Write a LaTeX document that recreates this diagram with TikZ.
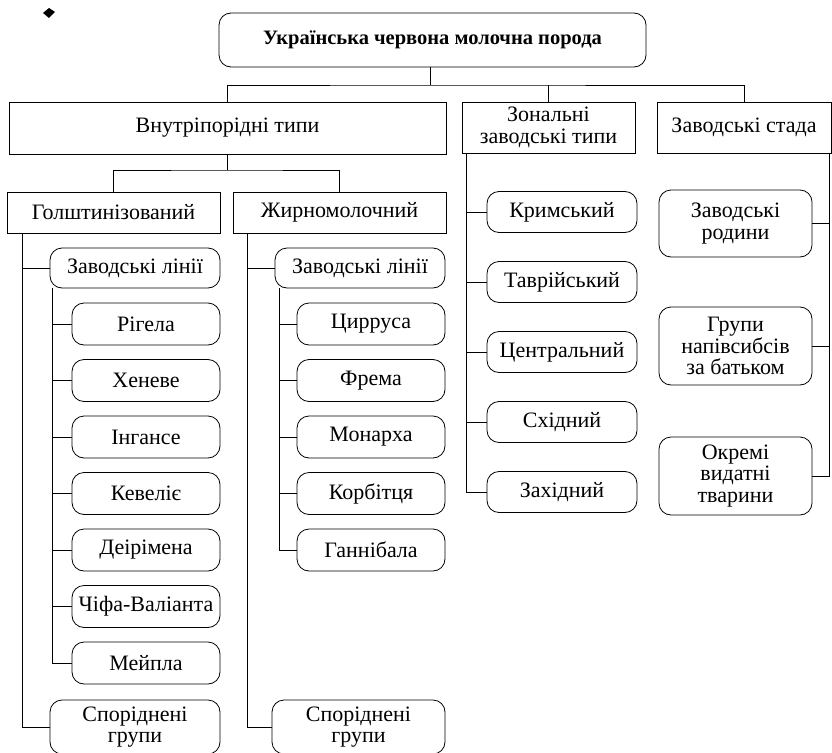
\documentclass[tikz,border=0pt]{standalone}
\usepackage{fontspec}
\setmainfont{Liberation Serif}
\begin{document}
\begin{tikzpicture}[x=1pt,y=-1pt,
  line width=0.8pt,
  txt/.style={font=\fontsize{22}{21.5}\selectfont, align=center, inner sep=0pt},
  sqbox/.style={txt, draw, rectangle},
  rbox/.style={txt, draw, rectangle, rounded corners=12pt},
  link/.style={draw, line width=0.8pt}
]
\useasboundingbox (0,0) rectangle (832,752);
% small printed mark at top left
\fill (43,13) -- (49,8) -- (55,12) -- (49,18) -- cycle;

% top
\node[rbox, font=\fontsize{20.5}{22}\selectfont\bfseries, minimum width=427pt, minimum height=54pt] (title) at (432.5,40) {Українська червона молочна порода};

% level 1
\node[sqbox, minimum width=437pt, minimum height=52pt] (vnutr) at (227.5,128) {Внутріпорідні типи};
\node[sqbox, minimum width=173pt, minimum height=51pt] (zon) at (548.5,127.5) {Зональні\\заводські типи};
\node[sqbox, minimum width=174pt, minimum height=51pt] (stada) at (744,127.5) {Заводські стада};

\coordinate (j1) at (430,85);
\draw[link] (title.south -| j1) -- (j1);
\draw[link] (vnutr.north) |- (j1) -| (stada.north);
\draw[link] (zon.north) -- (zon.north |- j1);

% level 2
\node[sqbox, minimum width=213pt, minimum height=41pt] (golsht) at (113.5,212.5) {Голштинізований};
\node[sqbox, minimum width=213pt, minimum height=41pt] (zhyr) at (339.5,212.5) {Жирномолочний};
\coordinate (j2) at (227.5,170);
\draw[link] (vnutr.south) -- (j2);
\draw[link] (golsht.north) |- (j2) -| (zhyr.north);

% Holstein branch
\node[rbox, minimum width=170pt, minimum height=40pt] (zlL) at (135,268) {Заводські лінії};
\node[rbox, minimum width=170pt, minimum height=54pt] (sporL) at (135,727) {Споріднені\\групи};
\coordinate (sL) at ([xshift=16pt]golsht.south west);
\draw[link] (sL) |- (zlL.west);
\draw[link] (sL) |- (sporL.west);

\coordinate (iL) at ([xshift=3pt]zlL.south west);
\foreach \t/\n [count=\k from 0] in {Рігела/a, Хеневе/b, Інгансе/c, Кевеліє/d, Деірімена/e, Чіфа-Валіанта/f, Мейпла/g}{
  \node[rbox, minimum width=148pt, minimum height=42pt] (L\n) at (146,324+56.5*\k) {\t};
  \draw[link] (iL) |- (L\n.west);
}

% fat-milk branch
\node[rbox, minimum width=170pt, minimum height=40pt] (zlR) at (360,268) {Заводські лінії};
\node[rbox, minimum width=173pt, minimum height=54pt] (sporR) at (358.5,727) {Споріднені\\групи};
\coordinate (sR) at ([xshift=15pt]zhyr.south west);
\draw[link] (sR) |- (zlR.west);
\draw[link] (sR) |- (sporR.west);

\coordinate (iR) at ([xshift=5pt]zlR.south west);
\foreach \t/\n [count=\k from 0] in {Цирруса/a, Фрема/b, Монарха/c, Корбітця/d, Ганнібала/e}{
  \node[rbox, minimum width=148pt, minimum height=42pt] (R\n) at (371,324+56.5*\k) {\t};
  \draw[link] (iR) |- (R\n.west);
}

% zonal types
\coordinate (iZ) at ([xshift=5pt]zon.south west);
\foreach \t/\n [count=\k from 0] in {Кримський/a, Таврійський/b, Центральний/c, Східний/d, Західний/e}{
  \node[rbox, minimum width=150pt, minimum height=41pt] (Z\n) at (562,212+70*\k) {\t};
  \draw[link] (iZ) |- (Z\n.west);
}

% breeding herds
\node[rbox, minimum width=153pt, minimum height=67pt] (S1) at (735.5,223.5) {Заводські\\родини};
\node[rbox, minimum width=153pt, minimum height=78pt] (S2) at (735.5,346) {Групи\\напівсибсів\\за батьком};
\node[rbox, minimum width=153pt, minimum height=78pt] (S3) at (735.5,476) {Окремі\\видатні\\тварини};
\coordinate (iS) at ([xshift=-2pt]stada.south east);
\draw[link] (iS) |- (S1.east);
\draw[link] (iS) |- (S2.east);
\draw[link] (iS) |- (S3.east);
\end{tikzpicture}
\end{document}
